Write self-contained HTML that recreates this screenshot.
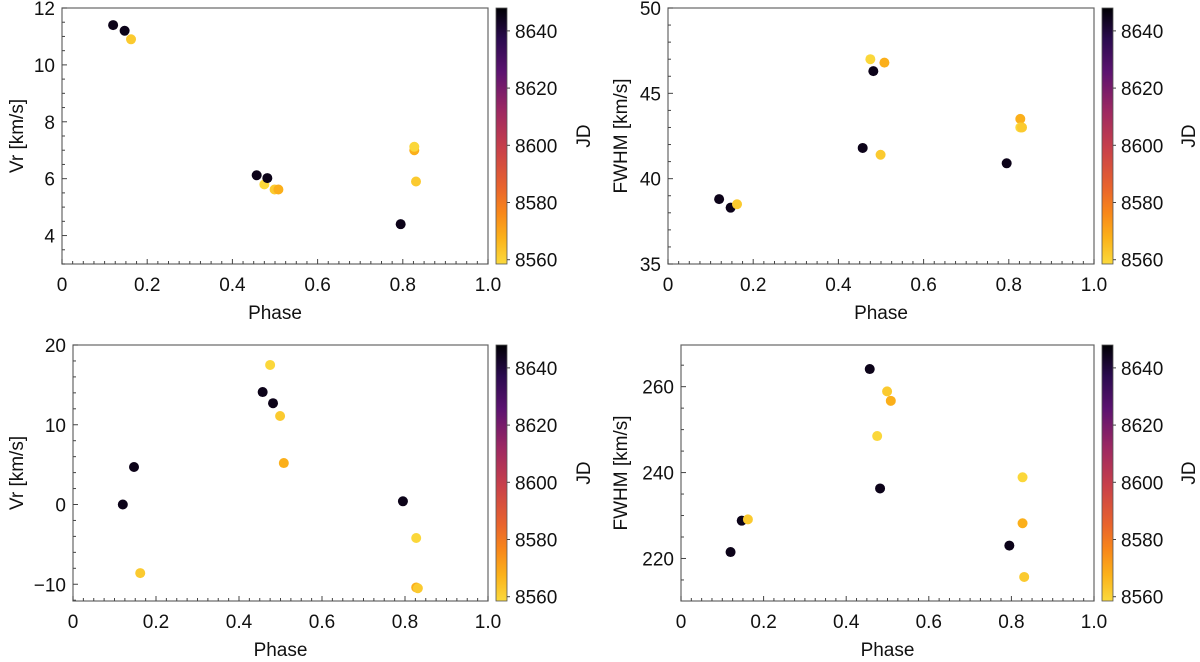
<!DOCTYPE html>
<html><head><meta charset="utf-8"><style>
html,body{margin:0;padding:0;background:#fff;}
svg{display:block;font-family:"Liberation Sans","DejaVu Sans",sans-serif;}
</style></head><body>
<svg id="fig" width="1200" height="662" viewBox="0 0 1200 662" xmlns="http://www.w3.org/2000/svg">
<defs>
<linearGradient id="cmap" x1="0" y1="1" x2="0" y2="0">
<stop offset="0" stop-color="#fbd93c"/><stop offset="0.1" stop-color="#fbb21a"/><stop offset="0.2" stop-color="#f8871a"/>
<stop offset="0.3" stop-color="#e8632d"/><stop offset="0.45" stop-color="#c8404a"/><stop offset="0.6" stop-color="#9c2862"/>
<stop offset="0.75" stop-color="#5c1370"/><stop offset="0.88" stop-color="#2a0b4e"/><stop offset="1" stop-color="#000004"/>
</linearGradient>
</defs>
</svg>
<script>
// shared phases
const phases = [0.120,0.147,0.162,0.457,0.475,0.482,0.499,0.508,0.795,0.827,0.827,0.831];
const jds    = [8645,8645,8562,8645,8559,8645,8562,8568,8645,8568,8559,8562];
// panel values
const vrTop   = [11.4,11.2,10.9,6.12,5.8,6.02,5.62,5.62,4.4,7.0,7.12,5.9];
const fwhmTop = [38.8,38.3,38.5,41.8,47.0,46.3,41.4,46.8,40.9,43.5,43.0,43.0];
const vrBot   = [0.0,4.7,-8.6,14.1,17.5,12.7,11.1,5.2,0.4,-10.4,-4.2,-10.5];
const fwhmBot = [221.5,228.8,229.1,264.1,248.5,236.3,258.9,256.7,223.0,228.2,238.9,215.7];
const phaseTicks = [0,0.2,0.4,0.6,0.8,1.0];
const phaseTickLabels = ["0","0.2","0.4","0.6","0.8","1.0"];
const jdTicks = [8560,8580,8600,8620,8640];
const vrTopTicks = [4,6,8,10,12];
const fwhmTopTicks = [35,40,45,50];
const vrBotTicks = [-10,0,10,20];
const fwhmBotTicks = [220,240,260];
const jdMin = 8558.5, jdMax = 8648;

const NS="http://www.w3.org/2000/svg";
const fig=document.getElementById('fig');
function mk(tag,attrs,parent){const e=document.createElementNS(NS,tag);for(const k in attrs)e.setAttribute(k,attrs[k]);(parent||fig).appendChild(e);return e;}
const stops=[[0,[251,217,60]],[0.1,[251,178,26]],[0.2,[248,135,26]],[0.3,[232,99,45]],[0.45,[200,64,74]],[0.6,[156,40,98]],[0.75,[92,19,112]],[0.88,[42,11,78]],[1,[0,0,4]]];
function cmap(v){let t=(v-jdMin)/(jdMax-jdMin);t=Math.max(0,Math.min(1,t));
 for(let i=1;i<stops.length;i++){if(t<=stops[i][0]){const a=stops[i-1],b=stops[i],f=(t-a[0])/(b[0]-a[0]);
  const c=a[1].map((x,j)=>Math.round(x+(b[1][j]-x)*f));return `rgb(${c[0]},${c[1]},${c[2]})`;}}return 'rgb(0,0,4)';}

function panel(name,L,R,T,B,ymin,ymax,yticks,yminor,ylabel,ylabX,vals,cbX,jdX){
 const g=mk('g',{});
 
 
 const xs=p=>L+p*(R-L), ys=v=>B-(v-ymin)/(ymax-ymin)*(B-T);
 const frame=mk('rect',{x:L,y:T,width:R-L,height:B-T,fill:'none',stroke:'#666','stroke-width':1.2},g);
 
 
 // x ticks
 for(let m=0;m<=40;m++){const x=xs(m*0.025);const major=m%8===0;
  mk('line',{x1:x,y1:B,x2:x,y2:B-(major?5:3),stroke:'#444','stroke-width':1},g);}
 phaseTicks.forEach((p,i)=>{const t=mk('text',{x:xs(p),y:B+27,'text-anchor':'middle','font-size':19,fill:'#111'},g);t.textContent=phaseTickLabels[i];
  
  });
 const xl=mk('text',{x:(L+R)/2,y:B+55,'text-anchor':'middle','font-size':19,fill:'#111'},g);xl.textContent='Phase';
 
 
 // y ticks
 for(let v=Math.ceil(ymin/yminor)*yminor;v<=ymax+1e-9;v+=yminor){const y=ys(v);const major=yticks.some(t=>Math.abs(t-v)<1e-6);
  mk('line',{x1:L,y1:y,x2:L+(major?5:3),y2:y,stroke:'#444','stroke-width':1},g);}
 yticks.forEach(v=>{const t=mk('text',{x:L-7,y:ys(v)+7,'text-anchor':'end','font-size':19,fill:'#111'},g);t.textContent=String(v).replace('-','\u2212');
  
  });
 const yl=mk('text',{x:ylabX,y:(T+B)/2,'text-anchor':'middle','font-size':19,fill:'#111',transform:`rotate(-90 ${ylabX} ${(T+B)/2})`,dy:7},g);yl.textContent=ylabel;
 
 
 // points
 vals.forEach((v,i)=>{const c=mk('circle',{cx:xs(phases[i]),cy:ys(v),r:5,fill:cmap(jds[i])},g);
  
  });
 // colorbar
 const cb=mk('rect',{x:cbX,y:T,width:11,height:B-T,fill:'url(#cmap)',stroke:'#555','stroke-width':0.8},g);
 
 
 const cy=v=>B-(v-jdMin)/(jdMax-jdMin)*(B-T);
 jdTicks.forEach(v=>{mk('line',{x1:cbX+11,y1:cy(v),x2:cbX+14,y2:cy(v),stroke:'#444'},g);
  const t=mk('text',{x:cbX+19,y:cy(v)+7,'font-size':19,fill:'#111'},g);t.textContent=v;
  
  });
 const jl=mk('text',{x:jdX,y:(T+B)/2,'text-anchor':'middle','font-size':19,fill:'#111',transform:`rotate(-90 ${jdX} ${(T+B)/2})`,dy:7},g);jl.textContent='JD';
 
 
}
panel('vr-top-panel',62,488,8,264,3,12,vrTopTicks,0.5,'Vr [km/s]',16,vrTop,496,583);
panel('fwhm-top-panel',668,1094,8,264,35,50,fwhmTopTicks,1,'FWHM [km/s]',620,fwhmTop,1102,1188);
panel('vr-bottom-panel',73,488,345,601,-12.1,20,vrBotTicks,2,'Vr [km/s]',16,vrBot,496,583);
panel('fwhm-bottom-panel',681,1094,345,601,210.1,269.7,fwhmBotTicks,5,'FWHM [km/s]',620,fwhmBot,1102,1188);
</script>
</body></html>
